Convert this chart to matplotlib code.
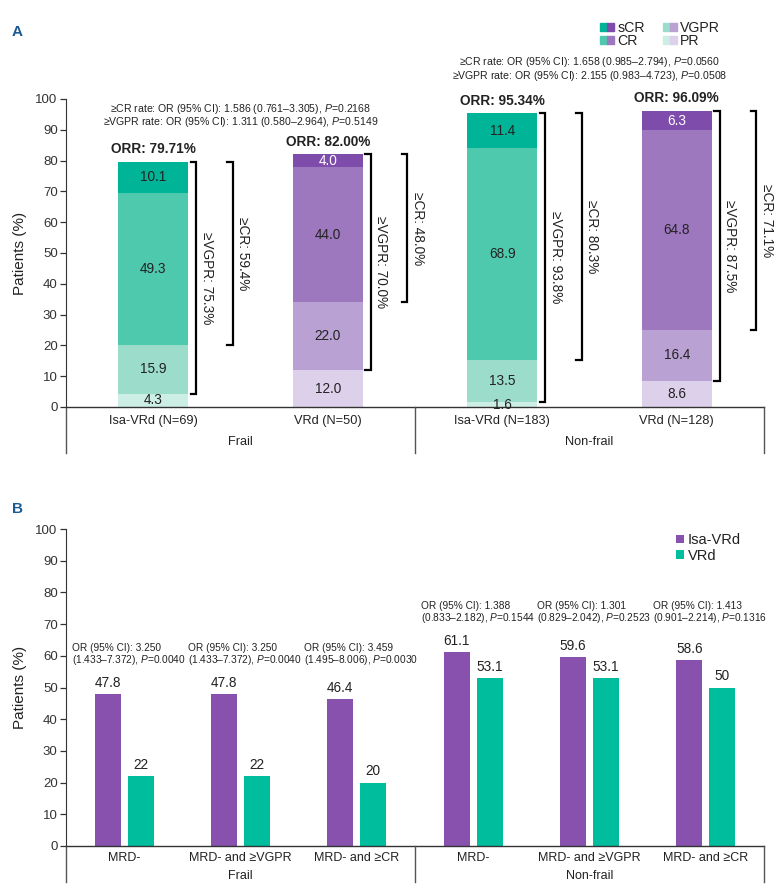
import numpy as np
import matplotlib
matplotlib.use("Agg")
import matplotlib.pyplot as plt
from matplotlib.patches import Patch
from matplotlib.legend_handler import HandlerTuple
from matplotlib.transforms import blended_transform_factory

plt.rcParams['font.family'] = ['Liberation Sans', 'DejaVu Sans']
plt.rcParams['mathtext.fontset'] = 'custom'
plt.rcParams['mathtext.rm'] = 'Liberation Sans'
plt.rcParams['mathtext.it'] = 'Liberation Sans:italic'
plt.rcParams['mathtext.bf'] = 'Liberation Sans:bold'

# ---- panel A data ----
arms_a = ["Isa-VRd (N=69)", "VRd (N=50)", "Isa-VRd (N=183)", "VRd (N=128)"]
groups = ["Frail", "Non-frail"]
pr = [4.3, 12.0, 1.6, 8.6]
vgpr = [15.9, 22.0, 13.5, 16.4]
cr = [49.3, 44.0, 68.9, 64.8]
scr = [10.1, 4.0, 11.4, 6.3]
orr = ["79.71%", "82.00%", "95.34%", "96.09%"]
ge_vgpr = ["75.3%", "70.0%", "93.8%", "87.5%"]
ge_cr = ["59.4%", "48.0%", "80.3%", "71.1%"]
or_a = [
    ["\u2265CR rate: OR (95% CI): 1.586 (0.761\u20133.305), $\\it{P}$=0.2168",
     "\u2265VGPR rate: OR (95% CI): 1.311 (0.580\u20132.964), $\\it{P}$=0.5149"],
    ["\u2265CR rate: OR (95% CI): 1.658 (0.985\u20132.794), $\\it{P}$=0.0560",
     "\u2265VGPR rate: OR (95% CI): 2.155 (0.983\u20134.723), $\\it{P}$=0.0508"],
]

# ---- panel B data ----
cats_b = ["MRD-", "MRD- and \u2265VGPR", "MRD- and \u2265CR"] * 2
isa_b = [47.8, 47.8, 46.4, 61.1, 59.6, 58.6]
vrd_b = [22, 22, 20, 53.1, 53.1, 50]
or_b = [
    ("3.250", "1.433\u20137.372", "0.0040"),
    ("3.250", "1.433\u20137.372", "0.0040"),
    ("3.459", "1.495\u20138.006", "0.0030"),
    ("1.388", "0.833\u20132.182", "0.1544"),
    ("1.301", "0.829\u20132.042", "0.2523"),
    ("1.413", "0.901\u20132.214", "0.1316"),
]

teal = ["#cdeee5", "#9bdccb", "#4fc9ae", "#00b597"]   # PR, VGPR, CR, sCR
purple = ["#ddd0ea", "#b9a1d3", "#9d78bf", "#7e4cab"]
purple_b = "#8751ad"
teal_b = "#00bd9e"
txt = "#222222"
gray = "#555555"

W, H = 774, 892
fig = plt.figure(figsize=(W / 100, H / 100), dpi=100)


def style_axis(ax):
    for s in ["top", "right", "bottom"]:
        ax.spines[s].set_visible(False)
    ax.spines["left"].set_color("#333333")
    ax.set_ylim(0, 100)
    ax.set_yticks(range(0, 101, 10))
    ax.tick_params(axis="y", length=4, width=0.9, colors="#333333", labelsize=9.5, pad=2)
    ax.tick_params(axis="x", length=0, labelsize=9.2, colors=txt)
    ax.axhline(0, color="#333333", lw=1.0, clip_on=False)


# ================= Panel A =================
axA = fig.add_axes([66 / W, 1 - 407 / H, 698 / W, 308 / H])
style_axis(axA)
x = np.arange(len(arms_a))
axA.set_xlim(-0.5, 3.5)
segs = [pr, vgpr, cr, scr]
for i in range(len(arms_a)):
    cols = teal if i % 2 == 0 else purple
    bottom = 0
    for k, seg in enumerate(segs):
        v = seg[i]
        axA.bar(x[i], v, bottom=bottom, width=0.4, color=cols[k], edgecolor="none")
        tc = "white" if (k == 3 and i % 2 == 1) else txt
        axA.text(x[i], bottom + v / 2, f"{v:.1f}", ha="center", va="center",
                 fontsize=9.8, color=tc)
        bottom += v
    total = bottom
    axA.annotate("ORR: " + orr[i], (x[i], total), xytext=(0, 4), textcoords="offset points",
                 ha="center", va="bottom", fontsize=9.8, fontweight="bold", color=txt)
    # brackets
    lo_vgpr = pr[i]
    lo_cr = pr[i] + vgpr[i]
    for bx, lo, lab in [(0.245, lo_vgpr, "\u2265VGPR: " + ge_vgpr[i]),
                        (0.455, lo_cr, "\u2265CR: " + ge_cr[i])]:
        xx = x[i] + bx
        axA.plot([xx - 0.03, xx, xx, xx - 0.03], [lo, lo, total, total],
                 color="black", lw=1.6, clip_on=False, solid_joinstyle="miter")
        axA.text(xx + 0.062, (lo + total) / 2, lab, rotation=-90, ha="center",
                 va="center", fontsize=9.8, color=txt)

# OR text panel A
for g in range(2):
    cx = 2 * g + 0.5
    ys = [96.8, 92.5] if g == 0 else [112.0, 107.5]
    for line, yy in zip(or_a[g], ys):
        axA.text(cx, yy, line, ha="center", va="center", fontsize=7.6,
                 color=txt, clip_on=False)

axA.set_xticks(x)
axA.set_xticklabels(arms_a)
axA.tick_params(axis="x", pad=6)
axA.set_ylabel("Patients (%)", fontsize=11, color=txt, labelpad=6)
trA = blended_transform_factory(axA.transData, axA.transAxes)
for g, name in enumerate(groups):
    axA.text(2 * g + 0.5, -35 / 308, name, transform=trA, ha="center", va="center",
             fontsize=9.2, color=txt)
for sx in [-0.5, 1.5, 3.5]:
    axA.plot([sx, sx], [0, -46 / 308], transform=trA, color=gray, lw=1.0, clip_on=False)

handles = [(Patch(color=teal[3]), Patch(color=purple[3])),
           (Patch(color=teal[2]), Patch(color=purple[2])),
           (Patch(color=teal[1]), Patch(color=purple[1])),
           (Patch(color=teal[0]), Patch(color=purple[0]))]
fig.legend(handles, ["sCR", "CR", "VGPR", "PR"], ncol=2,
           handler_map={tuple: HandlerTuple(ndivide=None, pad=0)},
           loc="upper left", bbox_to_anchor=(593 / W, 1 - 14 / H), frameon=False,
           fontsize=10.2, handlelength=1.0, handleheight=0.5, handletextpad=0.2,
           columnspacing=1.3, labelspacing=-0.1, borderpad=0, labelcolor=txt)

# ================= Panel B =================
axB = fig.add_axes([66 / W, 1 - 846 / H, 698 / W, 317 / H])
style_axis(axB)
xb = np.arange(len(cats_b))
axB.set_xlim(-0.5, 5.5)
off, bw = 0.142, 0.225
axB.bar(xb - off, isa_b, width=bw, color=purple_b, label="Isa-VRd")
axB.bar(xb + off, vrd_b, width=bw, color=teal_b, label="VRd")
for i in range(len(cats_b)):
    axB.annotate(f"{isa_b[i]:g}", (xb[i] - off, isa_b[i]), xytext=(0, 3),
                 textcoords="offset points", ha="center", va="bottom", fontsize=9.8, color=txt)
    axB.annotate(f"{vrd_b[i]:g}", (xb[i] + off, vrd_b[i]), xytext=(0, 3),
                 textcoords="offset points", ha="center", va="bottom", fontsize=9.8, color=txt)
    half_max = max(isa_b[:3]) if i < 3 else max(isa_b[3:])
    o, ci, p = or_b[i]
    axB.text(xb[i] - 0.45, half_max + 14.7, f"OR (95% CI): {o}", ha="left", va="center",
             fontsize=7.3, color=txt)
    axB.text(xb[i] - 0.45, half_max + 10.9, f"({ci}), $\\it{{P}}$={p}", ha="left",
             va="center", fontsize=7.3, color=txt)

axB.set_xticks(xb)
axB.set_xticklabels(cats_b)
axB.tick_params(axis="x", pad=4, labelsize=9)
axB.set_ylabel("Patients (%)", fontsize=11, color=txt, labelpad=6)
trB = blended_transform_factory(axB.transData, axB.transAxes)
for g, name in enumerate(groups):
    axB.text(3 * g + 1, -30 / 317, name, transform=trB, ha="center", va="center",
             fontsize=9, color=txt)
for sx in [-0.5, 2.5, 5.5]:
    axB.plot([sx, sx], [0, -36 / 317], transform=trB, color=gray, lw=1.0, clip_on=False)

axB.legend(loc="upper left", bbox_to_anchor=(669 / W, 1 - 526 / H),
           bbox_transform=fig.transFigure, frameon=False, fontsize=10.5,
           handlelength=0.5, handleheight=0.5, handletextpad=0.3, labelspacing=0.1,
           borderpad=0, labelcolor=txt)

fig.text(12 / W, 1 - 32 / H, "A", fontsize=11, fontweight="bold", color="#1b5a94",
         va="center")
fig.text(12 / W, 1 - 509 / H, "B", fontsize=11, fontweight="bold", color="#1b5a94",
         va="center")

fig.savefig("out.png", dpi=100)
